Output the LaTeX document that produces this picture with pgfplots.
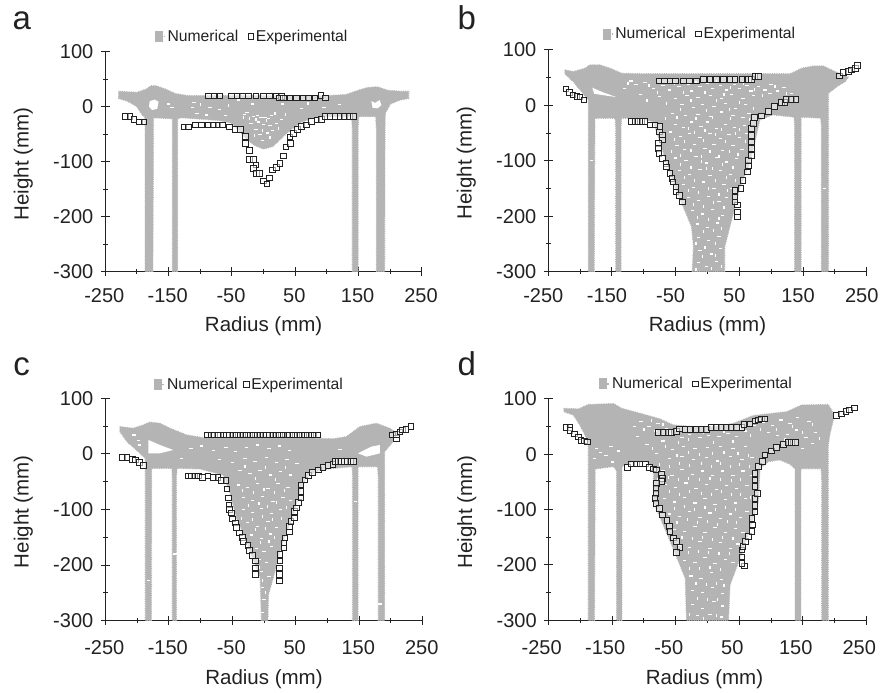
\documentclass[border=0pt]{standalone}
\usepackage{pgfplots}
\pgfplotsset{compat=1.18}
\usepackage{fontspec}
\setmainfont{Liberation Sans}
\definecolor{numgray}{HTML}{B4B4B4}
\definecolor{ink}{HTML}{222222}
\pgfplotsset{
  panel/.style={
    scale only axis, width=318pt, height=221pt,
    xmin=-250, xmax=250, ymin=-300, ymax=100,
    axis lines=left, axis line style={-, ink, line width=1.1pt},
    xtick={-250,-150,-50,50,150,250},
    minor xtick={-200,-100,0,100,200},
    ytick={-300,-200,-100,0,100},
    minor ytick={-250,-150,-50,50},
    tick align=center,
    major tick length=9pt, minor tick length=5pt,
    tick style={ink, line width=1pt},
    /pgf/number format/assume math mode=true,
    /pgf/number format/set thousands separator={},
    tick label style={font=\fontsize{20}{22}\selectfont, text=ink},
    yticklabel style={xshift=-4pt},
    xlabel={Radius (mm)}, ylabel={Height (mm)},
    label style={font=\fontsize{20.5}{23}\selectfont, text=ink},
    xlabel style={at={(axis description cs:0.5,0)}, anchor=center},
    ylabel style={at={(axis description cs:0,0.49)}, anchor=center, yshift=82pt},
    legend columns=2,
    legend style={draw=none, fill=none, inner sep=0pt, outer sep=0pt, anchor=west,
      font=\fontsize{15.7}{17}\selectfont, text=ink,
      /tikz/every even column/.append style={column sep=8pt}},
  },
  numsty/.style={fill=numgray, draw=numgray, line width=1.2pt, dash pattern=on 0.8pt off 1pt,
    legend image code/.code={\fill[numgray, draw=none, solid] (0pt,-5.5pt) rectangle (8pt,5.5pt);
      \path (0pt,0pt) -- (10pt,0pt);}},
  expsty/.style={only marks, mark=square*, mark size=2.8pt,
    mark options={draw=ink, solid, line width=1pt, fill=white, fill opacity=0.55}},
  speck/.style={only marks, forget plot, mark=-, mark size=1.7pt,
    mark options={draw=white, solid, line width=1.2pt}},
  speckv/.style={only marks, forget plot, mark=|, mark size=1.5pt,
    mark options={draw=white, solid, line width=1.2pt}},
  hole/.style={forget plot, fill=white, draw=none},
}
\begin{document}
\begin{tikzpicture}
\useasboundingbox (0pt,0pt) rectangle (881pt,693pt);
\node[anchor=base, font=\fontsize{33}{36}\selectfont, text=ink] at (21.7pt,663pt) {a};
\node[anchor=base, font=\fontsize{33}{36}\selectfont, text=ink] at (466.7pt,663pt) {b};
\node[anchor=base, font=\fontsize{33}{36}\selectfont, text=ink] at (21.7pt,317.3pt) {c};
\node[anchor=base, font=\fontsize{33}{36}\selectfont, text=ink] at (466.7pt,317.3pt) {d};

% ---------- a
\begin{axis}[panel, at={(105.3pt,421.3pt)}, anchor=south west, width=316.7pt, height=220pt,
  xlabel style={yshift=-54pt},
  every x tick label/.append style={yshift=-9pt, xshift=-1pt},
  legend style={at={(0.155,1.07)}}]
\addplot[numsty] coordinates {
(-229,28)(-200,26)(-185,32)(-178,38)(-170,38)(-155,32)(-140,24)(-120,20)(-100,20)(-50,20)(0,20)(50,19)(100,20)(130,22)(150,30)(165,35)(180,36)(195,30)(215,28)(229,28)
(229,15)(215,12)(200,5)(192,-12)(191.5,-40)(191,-300)(178,-300)(178,-40)(177,-18)(150,-18)(149,-40)(149,-300)(140,-300)(140,-40)(139,-18)(100,-18)(80,-20)(60,-28)(45,-40)(30,-55)(15,-72)(0,-77)(-15,-70)(-30,-55)(-50,-30)(-70,-25)(-130,-20)(-136,-22)(-136,-300)(-144,-300)(-144,-22)(-174,-20)(-174,-60)(-175,-300)(-187,-300)(-187,-40)(-188,-18)(-192,-15)(-200,0)(-215,10)(-229,15)
} --cycle;
\addlegendentry{Numerical}
\addplot[hole] coordinates {(-180,10)(-172,13)(-166,9)(-168,-4)(-176,-6)(-181,0)} --cycle;
\addplot[hole] coordinates {(170,10)(176,7)(183,12)(186,3)(180,-3)(172,-2)} --cycle;
\addplot[speck] coordinates {
(-110,8)(-85,-1)(-105,-12)(-90,-15)(-70,-5)(-60,-16)(-112,-2)(-30,-14)(-26,-10)(-16,-18)(-10,-16)(-4,-20)(2,-19)(8,-22)(12,-16)(-8,-28)(0,-33)(10,-34)(20,-30)(28,-24)(-20,-30)(-6,-50)(6,-48)(-12,-42)(14,-44)(-2,-62)(30,5)(-40,12)(120,4)(-150,5)(-145,-2)(95,-2)(60,-4)(-18,5)
};
\addplot[speckv] coordinates {
(-32,-20)(-22,-22)(-12,-24)(18,-12)(34,-14)(4,-26)(-14,-52)(24,-40)(-2,-44)(10,-56)(-100,4)(70,6)(-55,2)
};
\addplot[expsty] coordinates {
(-87.4,19.4)(-78.4,19.4)(-69,19.4)(-50.5,19.4)(-41.6,19.4)(-33,19.4)(-24,19.4)(-12,19.4)(-0.5,19.4)(9,19.4)(20.5,19.4)(28.4,19)(24.7,16)(31,16)(41.6,16)(52,16)(62.6,16)(70.5,16)(81,16)(90.5,20)(98,16)
(-218,-18)(-211,-18)(-205,-23)(-196,-28)(-189,-28)
(-126,-37)(-119,-37)(-108,-33)(-98,-33)(-87,-33)(-79,-33)(-72,-33)(-65,-33)(-54,-37)(-45,-41)(-37,-42)(-28.4,-54.5)(-28.4,-67)(-22.6,-80)(-22.6,-96)(-16.3,-96)(-12,-106)(-16,-112)(-11,-121)(-7,-122)(-0.5,-135)(5,-140.6)(9,-130)(14,-115)(20.5,-111)(26,-103)(31,-90)(35,-73)(42.6,-67)(41.6,-55)(47,-48.5)(53,-42)(60,-36)(68,-33)(76,-27)(84,-24)(91.6,-23)(97,-18)(105,-18)(112.6,-18)(120.5,-18)(128,-18)(136,-18)(141.6,-18)
};
\addlegendentry{Experimental}
\end{axis}

% ---------- b
\begin{axis}[panel, at={(548.3pt,421.3pt)}, anchor=south west, width=318.4pt, height=221.7pt,
  xlabel style={yshift=-54pt},
  every x tick label/.append style={yshift=-9pt, xshift=-5pt},
  legend style={at={(0.169,1.072)}}]
\addplot[numsty] coordinates {
(-224,64)(-211,61)(-192,67)(-185,73)(-169,73)(-153,67)(-135,58)(-106,57)(-50,57)(30,57)(130,57)(148,67)(166,71)(182,71)(200,61)(221,51)(216,43)(203,34)(190,22)
(190,-18)(190,-300)(179,-300)(179,-40)(178,-23)(147,-21)(147,-300)(137,-300)(137,-40)(136,-21)(103,-17)(82,-26)(75,-63)(64,-111)(51,-147)(43,-183)(35,-219)(27,-255)(27,-300)(-24,-300)(-22,-255)(-25,-219)(-38,-183)(-51,-147)(-64,-105)(-72,-75)(-85,-29.5)(-105,-23)(-135,-23)(-136,-40)(-136,-300)(-144,-300)(-144,-40)(-145,-23)(-177,-23)(-177,-50)(-178,-300)(-187,-300)(-187,10)(-198,25)(-211,43)(-224,57)
} --cycle;
\addlegendentry{Numerical}
\addplot[hole] coordinates {(-181,32)(-165,24)(-143,15)(-155,17)(-178,21)} --cycle;
\addplot[speck] coordinates {
(-120,44)(-112,38)(-98,42)(-85,30)(-70,36)(-60,28)(-45,34)(-30,38)(-25,26)(-12,34)(0,40)(8,30)(20,36)(30,28)(42,38)(50,30)(62,36)(68,26)(80,34)(90,28)(100,38)(110,26)(120,32)(132,22)(-130,30)(-105,20)(-75,16)(-50,12)(-32,18)(-15,14)(5,18)(22,12)(38,20)(56,12)(72,18)(98,22)
(-40,2)(-22,-4)(-8,2)(10,-2)(28,4)(44,-6)(60,2)(-55,-14)(-35,-18)(-15,-16)(5,-20)(22,-12)(40,-18)(56,-22)(65,-14)
(-50,-34)(-38,-40)(-25,-30)(-10,-38)(0,-30)(14,-42)(28,-34)(42,-40)(58,-36)(-58,-48)(-42,-56)(-28,-50)(-12,-58)(4,-50)(20,-60)(34,-52)(50,-58)(62,-50)
(-48,-72)(-36,-80)(-20,-70)(-4,-78)(10,-70)(24,-82)(40,-72)(54,-80)(-50,-95)(-34,-100)(-18,-92)(-2,-104)(14,-94)(30,-102)(46,-96)
(-44,-118)(-28,-124)(-12,-116)(4,-126)(20,-118)(36,-124)(-38,-142)(-22,-148)(-6,-138)(10,-150)(26,-142)(38,-150)
(-30,-166)(-14,-172)(2,-164)(18,-174)(30,-166)(-24,-190)(-8,-196)(8,-188)(24,-198)(-16,-214)(0,-220)(16,-212)(-14,-238)(2,-244)(18,-236)(-12,-262)(6,-268)(20,-258)(-14,-284)(-2,-290)(14,-282)
(-182,-100)(184,-150)
};
\addplot[speckv] coordinates {
(-125,40)(-92,36)(-78,24)(-52,40)(-38,24)(-18,42)(-4,24)(14,44)(26,20)(36,32)(56,40)(74,28)(86,18)(106,34)(124,22)(-95,8)(-64,4)(-42,-8)(-26,8)(-2,-10)(14,8)(34,-8)(50,6)(72,-6)
(-66,-24)(-48,-22)(-30,-42)(-18,-24)(-4,-46)(8,-22)(22,-44)(36,-24)(50,-44)(66,-26)(-52,-62)(-36,-66)(-20,-48)(-6,-64)(12,-52)(28,-66)(44,-50)(60,-66)
(-56,-84)(-42,-90)(-26,-82)(-10,-92)(4,-84)(18,-92)(34,-84)(48,-88)(-42,-106)(-26,-112)(-10,-102)(8,-114)(24,-106)(40,-112)
(-36,-130)(-20,-136)(-2,-114)(12,-136)(30,-130)(44,-136)(-30,-154)(-14,-158)(2,-150)(18,-160)(32,-154)(-22,-178)(-6,-182)(10,-176)(26,-184)(-16,-202)(2,-206)(18,-204)(-6,-228)(10,-226)(22,-222)(-18,-250)(-4,-256)(12,-250)(-8,-272)(12,-270)(-18,-296)(6,-294)(22,-290)
};
\addplot[expsty] coordinates {
(-222,29.5)(-217,23)(-211,19)(-205,16)(-200,15)(-194,10)
(-76,44)(-68,44)(-59,44)(-50.5,44)(-38,44)(-28.5,44)(-17,44)(-6.5,47)(4,47)(14.5,47)(25,47)(35.5,47)(43,47)(54,47)(64,47)(69,47)(74.6,52)(80,52)
(-119,-29.5)(-114,-29.5)(-109,-29.5)(-103,-29.5)(-98,-29.5)(-90,-35.5)(-82.5,-35.5)(-74.6,-38.5)(-75.7,-47.6)(-70.4,-53.6)(-70.4,-62.6)(-77,-68.7)(-77,-77.7)(-76,-87)(-70.4,-96)(-65,-105)(-64,-111)(-59,-123)(-56,-132)(-54,-138)(-49.5,-147)(-49.5,-156)(-44,-162)(-39,-174)
(47.4,-201)(47.4,-192)(47.4,-180)(43,-174)(43,-165)(43,-153)(52.6,-150)(56,-135)(62.6,-120)(64,-108)(64,-99)(69,-90)(69,-78)(69,-66)(69,-54)(69,-41.6)(72,-32.5)(73.6,-22)(85,-19)(95.5,-11.4)(105,-2.4)(116.5,5)(122,5)(124,11)(132,11)(139,11)
(207,53)(214,59)(221,61)(226.5,64)(232,67)(236,72)
};
\addlegendentry{Experimental}
\end{axis}

% ---------- c
\begin{axis}[panel, at={(105.3pt,72.4pt)}, anchor=south west, width=317.4pt, height=222.3pt,
  xlabel style={yshift=-59pt},
  every x tick label/.append style={yshift=-12pt, xshift=-1pt},
  legend style={at={(0.153,1.063)}, /tikz/every even column/.append style={column sep=4pt}}]
\addplot[numsty] coordinates {
(-227,49)(-206,46)(-190,52)(-180,57)(-164,55)(-148,46)(-122,34)(-90,28)(-48,31)(4,33)(56.6,29)(109,27)(130,31)(151,49)(177,55)(198,46)(209,37)(201,19)(190,4)(190,-23)
(190,-300)(180,-300)(180,-40)(179,-23)(148,-23)(148,-300)(139.5,-300)(139.5,-40)(139,-23)(109,-26)(88,-29)(67,-41)(56.6,-68)(46,-110)(35.6,-140)(25,-175)(14.6,-223)(7,-253)(6,-300)(-4,-300)(-6,-223)(-14,-199)(-27.4,-157)(-43,-116)(-54,-68)(-64,-38)(-101,-27)(-137,-26)(-138,-40)(-138,-300)(-144.5,-300)(-144.5,-40)(-145,-26)(-177,-26)(-177,-50)(-177.5,-300)(-187,-300)(-187,-8)(-201,7)(-216,22)(-227,40)
} --cycle;
\addlegendentry{Numerical}
\addplot[hole] coordinates {(-182,25)(-164,16)(-143,7)(-164,1)(-182,1)} --cycle;
\addplot[hole] coordinates {(148,1)(169,13)(182.5,16)(182.5,1)(161.5,-5)} --cycle;
\addplot[speck] coordinates {
(-205,34)(-198,24)(-196,16)(-130,-8)(-115,10)(-98,14)(-80,6)(-60,12)(-45,4)(-28,12)(-10,16)(8,10)(24,14)(40,6)(-70,-10)(-50,-16)(-30,-8)(-14,-14)(4,-6)(20,-16)(36,-10)(52,-18)(120,8)(205,30)
(-38,-30)(-22,-36)(-6,-30)(10,-38)(26,-32)(42,-38)(-40,-56)(-26,-60)(-10,-54)(6,-62)(22,-54)(38,-60)(-32,-78)(-18,-84)(-2,-76)(14,-86)(30,-78)(42,-84)
(-32,-100)(-18,-106)(-4,-98)(12,-108)(26,-100)(-26,-124)(-10,-130)(6,-122)(20,-132)(-20,-146)(-4,-152)(10,-144)(-12,-170)(0,-176)(12,-166)(-8,-190)(4,-196)(-4,-212)(8,-220)(-2,-240)(0,-262)(-2,-285)
(-182,-228)(-140,-180)(144,-85)(183,-270)
};
\addplot[speckv] coordinates {
(-30,-22)(-14,-44)(2,-24)(18,-46)(34,-24)(-34,-66)(-16,-70)(0,-64)(16,-70)(32,-66)(-24,-92)(-8,-90)(6,-94)(20,-88)(36,-96)(-36,-116)(-18,-118)(-2,-112)(14,-118)(28,-116)(-14,-136)(2,-134)(16,-150)(-6,-160)(8,-158)(-8,-204)(-2,-228)(2,-250)
};
\addplot[expsty] coordinates {
(-89,34)(-83,34)(-78,34)(-72,34)(-64,34)(-59,34)(-54,34)(-49,34)(-43,34)(-38,34)(-33,34)(-28,34)(-22,34)(-17,34)(-11,34)(-6,34)(-1,34)(4,34)(9,34)(14,34)(19,34)(24,34)(30,34)(36,34)(40,34)(46,34)(52,34)(57,34)(63,34)(68,34)(74,34)(79,34)(85,34)
(-223,-6)(-216,-6)(-207,-9.6)(-202,-11)(-196.5,-15)(-190,-21)
(-119,-39.5)(-114,-39.5)(-108.5,-39.5)(-103.5,-39.5)(-97,-42.5)(-88,-39.5)(-80,-42.5)(-72.5,-42.5)(-67,-48)(-60,-48)(-58,-63.5)(-56,-79.6)(-55,-92)(-54.5,-100.6)(-51,-106.6)(-50,-117)(-45,-124.6)(-43,-132)(-39,-142.5)(-34,-150)(-32,-157.5)(-25,-165)(-22.5,-174)(-18,-182.6)(-13,-193)(-13,-205)(-13,-217)
(24,-229)(24,-217)(24,-205)(25,-193)(25,-181)(31.4,-169.5)(31.4,-160.5)(33,-151.5)(40,-140.7)(40,-130.5)(42.4,-121.6)(47.6,-115.6)(47.6,-103.6)(51,-97.6)(54,-87.4)(58,-79.6)(58,-67.7)(58,-55.7)(64.4,-46.7)(69.7,-39)(76,-33)(85.4,-29)(93,-24.5)(101,-21)(109,-18.6)(111.7,-13.8)(117,-14)(122,-14)(127,-14)(132,-14)(137,-14)(141,-14)
(202.5,34)(209,28)(209,35)(214,39)(218,43)(223.5,44)(231.5,49)
};
\addlegendentry{Experimental}
\end{axis}

% ---------- d
\begin{axis}[panel, at={(548.7pt,72.7pt)}, anchor=south west, width=317.6pt, height=221.3pt,
  xlabel style={yshift=-59pt, xshift=-3pt},
  every x tick label/.append style={yshift=-12pt, xshift=-7pt},
  legend style={at={(0.158,1.068)}}]
\addplot[numsty] coordinates {
(-226,83)(-203,82)(-187.6,90)(-148,91.6)(-135,83)(-106,74)(-75,64)(-54,53)(-22,50)(14,50)(41,56)(72,70)(125,77)(148,89)(190,90)(197,77)(198,62)(193,38)(190,17)(190,-25)
(190,-300)(180,-300)(180,-50)(179,-26)(147,-26)(147,-300)(138,-300)(138,-26)(130,-18)(114,-10)(96,-13)(82.6,-25)(80,-85.5)(67,-134)(51,-188)(35.4,-236)(33,-300)(-33,-300)(-35,-224)(-54,-170)(-69.5,-128)(-85,-85.5)(-85,-25)(-96,-13)(-117,-13)(-135,-22)(-135,-300)(-143,-300)(-143,-30)(-148,-22)(-177,-26.5)(-177,-60)(-178,-300)(-187.6,-300)(-187.6,23)(-201,53)(-211,71)(-226,77)
} --cycle;
\addlegendentry{Numerical}
\addplot[speck] coordinates {
(-175,10)(-168,4)(-160,-2)(-152,14)(-140,6)(-178,-8)(-150,-14)(-115,50)(-105,60)(-92,50)(-82,42)(-78,56)(-65,46)(-52,44)(-40,30)(-28,36)(-12,30)(2,34)(18,32)(32,38)(46,32)(60,42)(74,52)(88,58)(102,52)(116,62)(130,56)(96,40)(110,34)(126,36)(140,44)(155,30)(165,20)(150,10)(170,40)(160,60)(142,66)
(-110,32)(-95,18)(-70,24)(-55,8)(-38,14)(-20,10)(0,12)(20,14)(40,10)(60,14)(-80,2)(-60,-8)(-40,-4)(-22,-10)(-2,-6)(16,-12)(36,-4)(54,-10)(70,-6)
(-70,-30)(-56,-38)(-40,-28)(-24,-36)(-8,-30)(8,-38)(24,-30)(40,-38)(56,-30)(70,-38)(-66,-55)(-50,-60)(-34,-52)(-18,-62)(-2,-54)(14,-64)(30,-56)(46,-62)(62,-56)(72,-64)
(-68,-80)(-52,-86)(-36,-78)(-20,-88)(-4,-80)(12,-90)(28,-82)(44,-88)(60,-80)(-60,-108)(-44,-112)(-28,-104)(-12,-114)(4,-106)(20,-116)(36,-108)(52,-114)(62,-104)
(-52,-136)(-36,-140)(-20,-130)(-4,-142)(12,-132)(28,-142)(44,-134)(56,-142)(-44,-164)(-28,-168)(-12,-158)(4,-170)(20,-160)(36,-170)(48,-162)
(-36,-192)(-20,-196)(-4,-186)(12,-198)(28,-190)(40,-196)(-26,-220)(-10,-224)(6,-214)(22,-226)(-24,-246)(-8,-250)(8,-240)(24,-252)(-24,-272)(-8,-278)(10,-266)(24,-274)(-16,-292)(4,-290)(22,-294)
};
\addplot[speckv] coordinates {
(-100,44)(-88,62)(-70,54)(-58,36)(-46,22)(-30,26)(-6,40)(10,22)(26,42)(40,24)(52,46)(68,34)(84,44)(108,44)(122,26)(134,50)(150,40)(165,54)(176,28)
(-86,10)(-66,14)(-48,-2)(-30,4)(-12,0)(8,2)(26,4)(48,2)(64,-2)(-76,-18)(-60,-22)(-44,-16)(-28,-20)(-10,-16)(6,-22)(20,-16)(36,-22)(50,-18)(66,-22)
(-78,-46)(-62,-42)(-46,-46)(-30,-44)(-12,-46)(4,-44)(20,-46)(38,-48)(52,-46)(-60,-68)(-44,-72)(-28,-68)(-10,-70)(6,-72)(22,-68)(38,-72)(52,-72)(68,-78)
(-52,-98)(-36,-94)(-20,-100)(-4,-96)(12,-100)(28,-96)(44,-100)(-48,-124)(-32,-118)(-16,-124)(0,-122)(16,-126)(32,-122)(46,-124)(-40,-150)(-24,-152)(-8,-150)(8,-154)(24,-150)(40,-152)
(-30,-178)(-14,-176)(2,-178)(18,-180)(34,-180)(-28,-206)(-12,-206)(4,-204)(20,-208)(-18,-234)(-2,-236)(14,-234)(26,-238)(-16,-260)(0,-262)(16,-262)(-28,-290)(-6,-296)(14,-292)
};
\addplot[expsty] coordinates {
(-223,49)(-216.4,49)(-216.4,43)(-209.6,37)(-203,31)(-199,25)(-194,24)(-189,22)
(-77.4,39)(-69.5,39)(-61.6,39)(-56.4,39)(-48.5,41)(-44.3,46)(-35.4,45)(-27.5,45)(-17,45)(-9,45)(-1.3,45)(6.5,48)(14.4,49)(22.3,49)(30.2,49)(38,49)(46,49)(54,49)(57.4,54)(67,55)(75,60)(80,62)(85.3,64)(90.5,64)
(-125.7,-23.5)(-119.4,-17.5)(-111.6,-17.5)(-106,-17.5)(-97.3,-17.5)(-91.5,-24)(-85,-26.5)(-80,-28)(-72,-36)(-70.4,-43.4)(-72,-49.4)(-80,-52.4)(-81,-61.4)(-81,-70.4)(-82.6,-79.4)(-81,-88.5)(-75.8,-97.6)(-70.4,-109.6)(-64,-120)(-60,-131)(-59,-140)(-54,-151)(-48.5,-158)(-43.3,-168)(-48.5,-177)
(58,-202)(54,-197.5)(54,-185.5)(54,-173)(55.7,-167)(59.4,-158)(64.6,-149)(69.8,-140)(71,-128)(69.8,-116)(75,-104)(75,-92)(75,-79.5)(79,-70.4)(75,-58.4)(75,-46.4)(75,-34.3)(80,-22)(86.3,-13)(90.5,-1)(101,6)(109,12.6)(119.4,17.4)(127,21.5)(132.5,21.5)(139,21.5)
(203,70)(211,73)(218,77)(224,80)(231,84)
};
\addlegendentry{Experimental}
\end{axis}
\end{tikzpicture}
\end{document}
